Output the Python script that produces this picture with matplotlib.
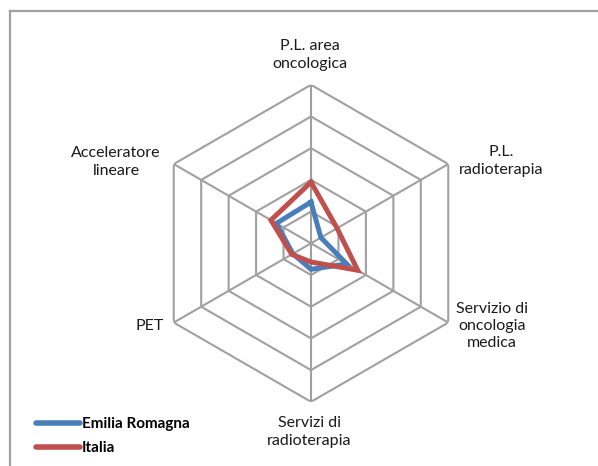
import numpy as np
import matplotlib
matplotlib.use("Agg")
import matplotlib.pyplot as plt
from matplotlib.lines import Line2D

categories = ["P.L. area\noncologica", "P.L.\nradioterapia", "Servizio di\noncologia\nmedica",
              "Servizi di\nradioterapia", "PET", "Acceleratore\nlineare"]
emilia = [1.30, 0.36, 1.30, 0.82, 0.66, 1.26]
italia = [1.93, 0.95, 1.70, 0.59, 0.70, 1.46]
series_names = ["Emilia Romagna", "Italia"]
ring_levels = [1, 2, 3, 4, 5]

W, H = 598, 466
plt.rcParams['font.family'] = ['Lato', 'DejaVu Sans']
fig = plt.figure(figsize=(W / 100, H / 100), dpi=100)

cx, cy, R = 311, 243.3, 158.5
ax = fig.add_axes([(cx - R) / W, (H - cy - R) / H, 2 * R / W, 2 * R / H], projection='polar')
ax.set_theta_offset(np.pi / 2)
ax.set_theta_direction(-1)
ax.set_ylim(0, 5)
ax.grid(False)
ax.spines['polar'].set_visible(False)
ax.set_xticks([])
ax.set_yticks([])
ax.patch.set_alpha(0)

n = len(categories)
ang = np.linspace(0, 2 * np.pi, n, endpoint=False)
angc = np.append(ang, ang[0])
grid_c = '#a0a0a0'
for r in ring_levels:
    ax.plot(angc, [r] * (n + 1), color=grid_c, lw=1.5, zorder=1)
for a in ang:
    ax.plot([a, a], [0, ring_levels[-1]], color=grid_c, lw=1.5, zorder=1)

colors = ['#4a7ebb', '#c0504d']
for vals, c in zip([emilia, italia], colors):
    v = np.append(vals, vals[0])
    ax.plot(angc, v, color=c, lw=3.6, solid_joinstyle='miter', zorder=3)

# category labels (pixel positions of centres)
label_pos = [(310, 55), (501, 161), (492, 326), (309, 432), (150, 326), (116, 162)]
for txt, (px, py) in zip(categories, label_pos):
    fig.text(px / W, 1 - py / H, txt, ha='center', va='center', fontsize=11.5,
             color='#1a1a1a', linespacing=1.3)

# chart border: only top and left edges are visible in the crop
x0, y0 = 9.5 / W, 1 - 11 / H
fig.add_artist(Line2D([x0, 1.0], [y0, y0], transform=fig.transFigure, color='#a0a0a0', lw=1.6))
fig.add_artist(Line2D([x0, x0], [0.0, y0], transform=fig.transFigure, color='#a0a0a0', lw=1.6))

# legend
handles = [Line2D([0], [0], color=c, lw=4, solid_capstyle='round') for c in colors]
leg = fig.legend(handles, series_names, loc='upper left', bbox_to_anchor=(36 / W, 1 - 417 / H),
                 frameon=False, handlelength=2.9, handletextpad=0.12, labelspacing=0.65,
                 prop={'weight': 'bold', 'size': 11}, borderaxespad=0, borderpad=0)

fig.savefig('out.png', dpi=100, facecolor='white')
